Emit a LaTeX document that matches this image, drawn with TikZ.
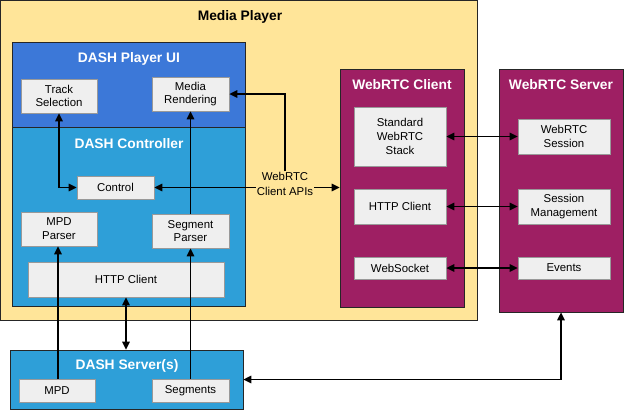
\documentclass[tikz,border=0pt]{standalone}
\usepackage{fontspec}
\setmainfont{Liberation Sans}
\usetikzlibrary{arrows.meta}
\definecolor{mpyellow}{HTML}{FFE599}
\definecolor{uiblue}{HTML}{3C78D8}
\definecolor{ctrlblue}{HTML}{2E9FD8}
\definecolor{rtcpurple}{HTML}{9E1F63}
\definecolor{boxgray}{HTML}{EFEFEF}
\definecolor{boxline}{HTML}{999999}
\begin{document}
\begin{tikzpicture}[x=1pt,y=-1pt,
	area/.style={draw=black!85, line width=0.8pt, inner sep=0pt},
	box/.style={draw=boxline, fill=boxgray, line width=0.8pt, inner sep=0pt, align=center,
		font=\fontsize{11.4}{13.8}\selectfont},
	title/.style={text=white, font=\fontsize{13.8}{16}\selectfont\bfseries},
	link/.style={line width=1.5pt, {Triangle[length=8pt,width=7.5pt]}-{Triangle[length=8pt,width=7.5pt]}},
	flow/.style={line width=1.5pt, -{Triangle[length=8pt,width=7.5pt]}}]
	\useasboundingbox (0,0) rectangle (624,410);
	\node [area, fill=mpyellow, minimum width=477pt, minimum height=320pt] (player) at (239,160) {};
	\node [font=\fontsize{13.8}{16}\selectfont\bfseries] (playerT) at (240,17) {Media Player};
	\node [area, fill=uiblue, minimum width=233pt, minimum height=85pt] (ui) at (128.5,84.5) {};
	\node [title] (uiT) at (129,59) {DASH Player UI};
	\node [area, fill=ctrlblue, minimum width=233pt, minimum height=179pt] (ctrl) at (128.5,216.5) {};
	\node [title] (ctrlT) at (129,144) {DASH Controller};
	\node [area, fill=ctrlblue, minimum width=233pt, minimum height=59pt] (server) at (126.5,379.5) {};
	\node [title] (serverT) at (127,366) {DASH Server(s)};
	\node [area, fill=rtcpurple, minimum width=124pt, minimum height=238pt] (rtcC) at (402,188) {};
	\node [title] (rtcCT) at (402,85) {WebRTC Client};
	\node [area, fill=rtcpurple, minimum width=124pt, minimum height=243pt] (rtcS) at (561,190.5) {};
	\node [title] (rtcST) at (561,85) {WebRTC Server};

	\node [box, minimum width=76pt, minimum height=34pt] (track) at (59,96) {Track\\Selection};
	\node [box, minimum width=77pt, minimum height=34pt] (render) at (190.5,94) {Media\\Rendering};
	\node [box, minimum width=77pt, minimum height=23pt] (control) at (115.5,187.5) {Control};
	\node [box, minimum width=76pt, minimum height=34pt] (mpdP) at (59,229) {MPD\\Parser};
	\node [box, minimum width=77pt, minimum height=34pt] (segP) at (190.5,231) {Segment\\Parser};
	\node [box, minimum width=196pt, minimum height=35pt] (httpD) at (126,279.5) {HTTP Client};
	\node [box, minimum width=76pt, minimum height=23pt] (mpd) at (57,390.5) {MPD};
	\node [box, minimum width=77pt, minimum height=23pt] (segs) at (190.5,390.5) {Segments};
	\node [box, minimum width=92pt, minimum height=59pt] (stack) at (400,136.5) {Standard\\WebRTC\\Stack};
	\node [box, minimum width=92pt, minimum height=35pt] (httpR) at (400,206.5) {HTTP Client};
	\node [box, minimum width=92pt, minimum height=22pt] (wsock) at (400,268) {WebSocket};
	\node [box, minimum width=92pt, minimum height=35pt] (sess) at (564,136.5) {WebRTC\\Session};
	\node [box, minimum width=92pt, minimum height=35pt] (mgmt) at (564,206.5) {Session\\Management};
	\node [box, minimum width=92pt, minimum height=22pt] (events) at (564,268) {Events};
	\node [align=center, inner sep=1pt, font=\fontsize{11.4}{14.3}\selectfont] (api) at (285,184) {WebRTC\\Client APIs};

	\draw [link] (track.south) |- (control.west);
	\draw [flow] (control.east -| api.west) -- (control.east);
	\draw [flow] (api.east |- control.east) -- (rtcC.west |- control.east);
	\draw [flow] (api.north) |- (render.east);
	\draw [flow] (mpd.north -| 58,0) -- (mpdP.south -| 58,0);
	\draw [flow] (segs.north) -- (segP.south);
	\draw [flow] (segP.north) -- (render.south);
	\draw [link] (httpD.south) -- (server.north -| httpD.south);
	\draw [link] (stack.east) -- (sess.west);
	\draw [link] (httpR.east) -- (mgmt.west);
	\draw [link] (wsock.east) -- (events.west);
	\draw [link] (rtcS.south) |- (server.east);
\end{tikzpicture}
\end{document}
